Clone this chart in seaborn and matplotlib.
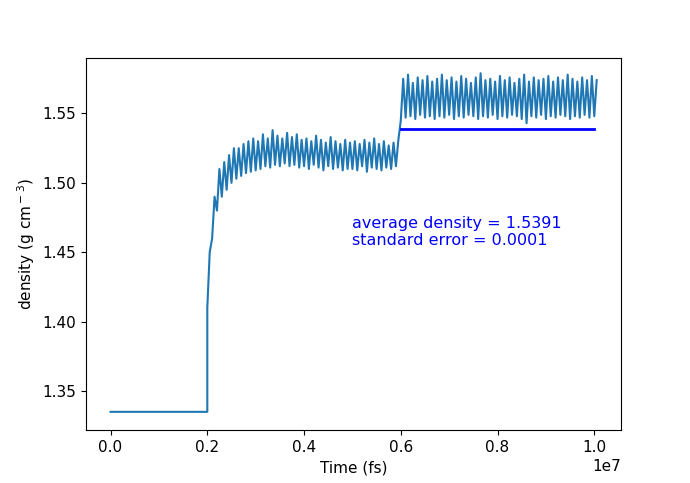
import numpy as np
import pandas as pd
import matplotlib
matplotlib.use("Agg")
import matplotlib.pyplot as plt
import seaborn as sns

# time in units of 1e6 fs
flat_time = [0.0, 2.0]
flat_density = [1.335, 1.335]

knot_time_a = [2.0 + 0.1 * i for i in range(40)]
upper_a = [1.45, 1.49, 1.51, 1.515, 1.52, 1.525, 1.525, 1.528, 1.53, 1.532,
           1.53, 1.535, 1.532, 1.538, 1.534, 1.532, 1.536, 1.533, 1.535, 1.531,
           1.532, 1.53, 1.534, 1.531, 1.529, 1.533, 1.53, 1.528, 1.531, 1.529,
           1.53, 1.528, 1.531, 1.529, 1.532, 1.528, 1.53, 1.527, 1.529, 1.531]
lower_a = [1.41, 1.46, 1.48, 1.49, 1.495, 1.50, 1.503, 1.505, 1.507, 1.508,
           1.509, 1.51, 1.512, 1.511, 1.513, 1.512, 1.514, 1.512, 1.513, 1.511,
           1.512, 1.51, 1.513, 1.511, 1.509, 1.512, 1.51, 1.511, 1.509, 1.51,
           1.51, 1.509, 1.512, 1.508, 1.511, 1.51, 1.509, 1.511, 1.51, 1.512]

knot_time_b = [6.0 + 0.1 * i for i in range(41)]
upper_b = [1.575, 1.578, 1.572, 1.576, 1.574, 1.577, 1.573, 1.575, 1.578, 1.574,
           1.576, 1.573, 1.577, 1.575, 1.572, 1.576, 1.579, 1.574, 1.575, 1.573,
           1.577, 1.574, 1.576, 1.572, 1.575, 1.578, 1.573, 1.576, 1.574, 1.575,
           1.577, 1.573, 1.576, 1.574, 1.578, 1.575, 1.573, 1.576, 1.574, 1.577, 1.574]
lower_b = [1.545, 1.547, 1.548, 1.546, 1.549, 1.547, 1.548, 1.546, 1.548, 1.547,
           1.549, 1.546, 1.548, 1.547, 1.549, 1.548, 1.546, 1.548, 1.547, 1.549,
           1.546, 1.548, 1.547, 1.549, 1.548, 1.546, 1.543, 1.548, 1.547, 1.549,
           1.546, 1.548, 1.547, 1.549, 1.548, 1.546, 1.548, 1.547, 1.549, 1.547, 1.548]

avg_density = 1.5391
std_error = 0.0001
avg_range = [6.0, 10.0]

plt.rcParams["font.size"] = 11

# interleave upper/lower envelope to mimic the noisy trace
t, d = list(flat_time), list(flat_density)
for times, up, lo in [(knot_time_a, upper_a, lower_a), (knot_time_b, upper_b, lower_b)]:
    for ti, u, l in zip(times, up, lo):
        t += [ti, ti + 0.05]
        d += [l, u]
df = pd.DataFrame({"time": np.array(t) * 1e6, "density": d})

fig, ax = plt.subplots(figsize=(6.9, 4.83), dpi=100)
sns.lineplot(data=df, x="time", y="density", sort=False, estimator=None,
             color="#1f77b4", lw=1.5, ax=ax)
ax.plot(np.array(avg_range) * 1e6, [avg_density] * 2, color="blue", lw=2)
ax.text(5e6, 1.455, f"average density = {avg_density:.4f}\nstandard error = {std_error:.4f}",
        color="blue", fontsize=11.5)
ax.set_xlabel("Time (fs)")
ax.set_ylabel(r"density (g cm$^-$$^3$)")
ax.set_xticks([0, 2e6, 4e6, 6e6, 8e6, 1e7])
ax.set_ylim(1.322, 1.59)
fig.savefig("out.png")
